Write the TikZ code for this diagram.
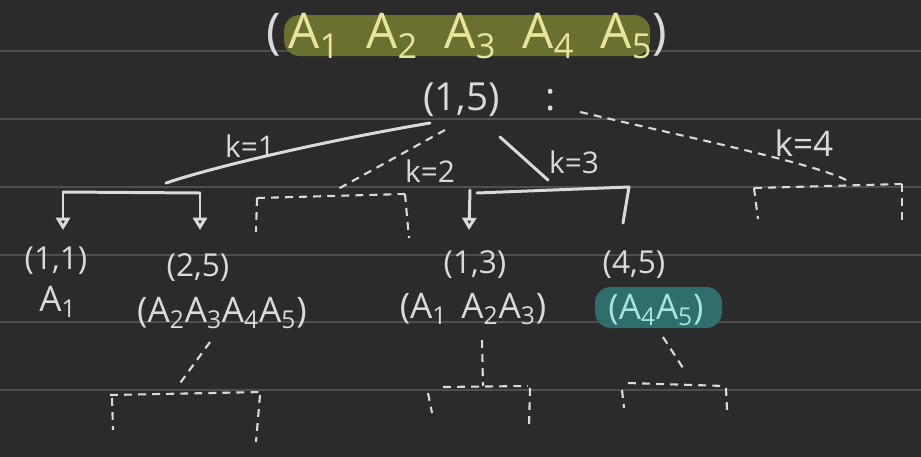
\documentclass[tikz,border=0pt]{standalone}
\usepackage{fontspec}
\setmainfont{Open Sans}
\usetikzlibrary{arrows.meta}
\definecolor{board}{HTML}{2B2B2B}
\definecolor{rule}{HTML}{4E4E4E}
\definecolor{chalk}{HTML}{DADADA}
\definecolor{olive}{HTML}{6A702F}
\definecolor{lemon}{HTML}{E6E69A}
\definecolor{sea}{HTML}{2F6E6C}
\definecolor{aqua}{HTML}{A6E4E0}
\begin{document}
\begin{tikzpicture}[x=0.02cm,y=-0.02cm]
\tikzstyle{se} = [draw=chalk,line width=1.7pt,line cap=round] %solid edge
\tikzstyle{de} = [draw=chalk,line width=1.2pt,dash pattern=on 4.5pt off 3.5pt] %dashed edge
\tikzstyle{dn} = [-{Triangle[open,width=8pt,length=7pt]}] %down arrow
\tikzstyle{lb} = [text=chalk,inner sep=1pt,font=\fontsize{18}{20}\selectfont] %label
\tikzstyle{kl} = [text=chalk,inner sep=0pt,font=\fontsize{17}{20}\selectfont] %k label
\useasboundingbox (0,0) rectangle (921,457);
\fill[board](0,0)rectangle(921,457);
\foreach \y in {51,119,187,255,322,390} \draw[rule,line width=0.6pt](0,\y)--(921,\y);
% top sequence
\fill[olive,rounded corners=9pt](284,15)rectangle(650,56);
\node[lb,font=\fontsize{28}{30}\selectfont](seq)at(467,36){(\hspace{4pt}\textcolor{lemon}{A\textsubscript{1}\hspace{15pt}A\textsubscript{2}\hspace{15pt}A\textsubscript{3}\hspace{15pt}A\textsubscript{4}\hspace{15pt}A\textsubscript{5}})};
% root
\node[lb,font=\fontsize{22}{24}\selectfont,anchor=west](root)at(421,100){(1,5)\hspace{26pt}:};
\coordinate(r1)at(430,123);
\coordinate(r2)at(445,130);
\coordinate(r3)at(500,137);
\coordinate(r4)at(580,112);
% k=1
\coordinate(k1)at(166,183);
\coordinate(a1)at(63,192);
\coordinate(b1)at(200,193);
\draw[se](r1)..controls(330,140)and(220,165)..(k1);
\draw[se](a1)--(b1);
\draw[se,dn](a1)--(63,230);
\draw[se,dn](b1)--(200,230);
\node[kl](l1)at(250,146){k=1};
% k=2
\coordinate(k2)at(338,189);
\coordinate(a2)at(257,198);
\coordinate(b2)at(405,194);
\draw[de](r2)--(k2);
\draw[de](a2)--(b2);
\draw[de](a2)--(256,232);
\draw[de](b2)--(409,238);
\node[kl](l2)at(430,171){k=2};
% k=3
\coordinate(k3)at(548,180);
\coordinate(a3)at(470,190);
\coordinate(b3)at(629,187);
\draw[se](r3)--(k3);
\draw[se](477,193)--(b3);
\draw[se,dn](a3)--(469,230);
\draw[se](b3)--(623,223);
\node[kl](l3)at(574,162){k=3};
% k=4
\coordinate(k4)at(848,181);
\coordinate(a4)at(754,188);
\coordinate(b4)at(902,184);
\draw[de](r4)..controls(700,140)and(820,165)..(k4);
\draw[de](a4)--(b4);
\draw[de](a4)--(758,219);
\draw[de](b4)--(902,226);
\node[kl,font=\fontsize{20}{22}\selectfont](l4)at(804,143){k=4};
% children
\node[lb](n11)at(56,261){(1,1)};
\node[lb,font=\fontsize{20}{22}\selectfont](m11)at(58,302){A\textsubscript{1}};
\node[lb](n25)at(198,268){(2,5)};
\node[lb,font=\fontsize{20}{22}\selectfont](m25)at(222,313){(A\textsubscript{2}A\textsubscript{3}A\textsubscript{4}A\textsubscript{5})};
\node[lb](n13)at(475,265){(1,3)};
\node[lb,font=\fontsize{20}{22}\selectfont](m13)at(473,309){(A\textsubscript{1}\hspace{8pt}A\textsubscript{2}A\textsubscript{3})};
\node[lb](n45)at(634,265){(4,5)};
\fill[sea,rounded corners=9pt](595,287)rectangle(722,328);
\node[lb,text=aqua,font=\fontsize{20}{22}\selectfont](m45)at(656,310){(A\textsubscript{4}A\textsubscript{5})};
% next level
\coordinate(c1)at(178,386);
\coordinate(c2)at(483,386);
\coordinate(c3)at(683,368);
\draw[de](210,342)--(c1);
\draw[de](110,395)--(262,392);
\draw[de](112,398)--(113,430);
\draw[de](260,395)--(256,442);
\draw[de](482,340)--(c2);
\draw[de](443,387)--(528,386);
\draw[de](428,393)--(432,413);
\draw[de](530,388)--(529,427);
\draw[de](663,337)--(c3);
\draw[de](628,383)--(725,386);
\draw[de](622,390)--(624,408);
\draw[de](726,388)--(727,410);
\end{tikzpicture}
\end{document}
